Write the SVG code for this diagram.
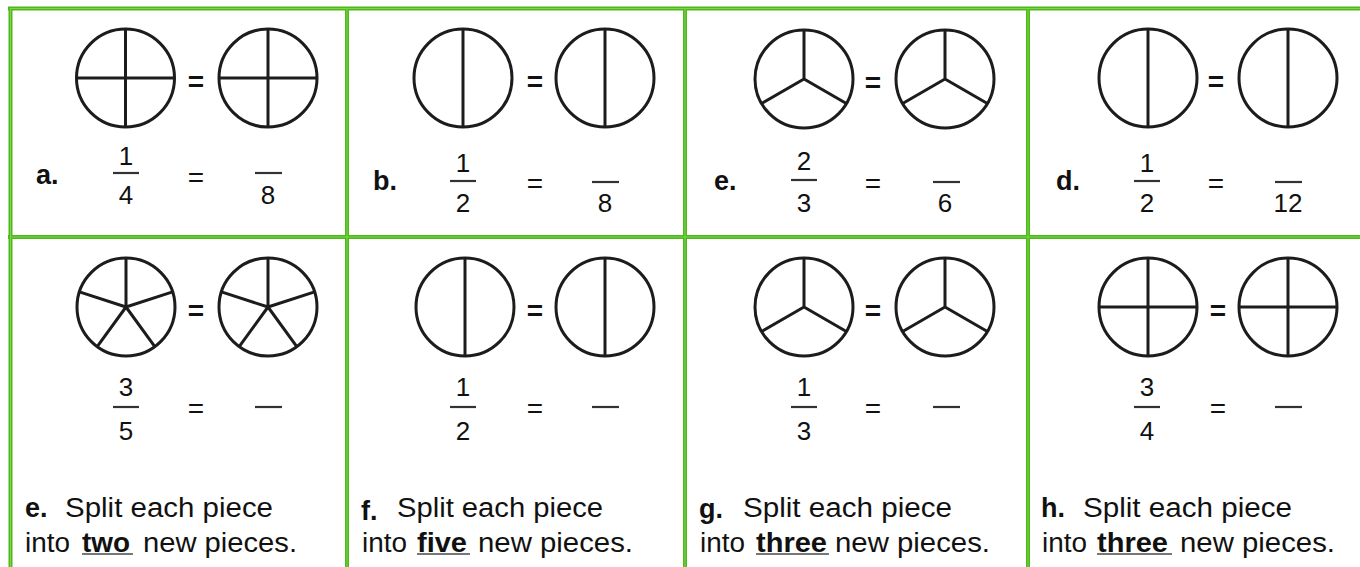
<svg xmlns="http://www.w3.org/2000/svg" xmlns:xlink="http://www.w3.org/1999/xlink" width="1360" height="567" viewBox="0 0 1360 567">
<style>
.t{font-family:"Liberation Sans",Arial,sans-serif;font-size:27px;fill:#111}
.d{font-family:"Liberation Sans",Arial,sans-serif;font-size:26px;fill:#111;text-anchor:middle}
.e{font-family:"Liberation Sans",Arial,sans-serif;font-size:28px;fill:#111;text-anchor:middle}
.b{font-weight:bold}
.bar{stroke:#333;stroke-width:2.2}
.ul{stroke:#777;stroke-width:2}
.g{stroke:#4cbb17;stroke-width:4;fill:none}
.gi{stroke:#7fd255;stroke-width:1;fill:none}
.c{fill:#fff;stroke:#1c1c1c;stroke-width:3}
.s{stroke:#1c1c1c;stroke-width:3;fill:none}
</style>
<defs>
<g id="p4"><circle class="c" r="49"/><path class="s" d="M-49 0H49M0 -49V49"/></g>
<g id="p2"><circle class="c" r="49"/><path class="s" d="M0 -49V49"/></g>
<g id="p3"><circle class="c" r="49"/><path class="s" d="M0 0V-49M0 0L-42.4 24.5M0 0L42.4 24.5"/></g>
<g id="p5"><circle class="c" r="49"/><path class="s" d="M0 0V-49M0 0L46.6 -15.1M0 0L28.8 39.6M0 0L-28.8 39.6M0 0L-46.6 -15.1"/></g>
</defs>
<rect width="1360" height="567" fill="#fff"/>

<g id="cell-a">
<use xlink:href="#p4" x="125.5" y="78"/><use xlink:href="#p4" x="268" y="78"/>
<text class="e b" x="196" y="91">=</text>
<text class="t b" x="36" y="184">a.</text>
<text class="d" x="126" y="165">1</text><line class="bar" x1="113" y1="173" x2="139" y2="173"/><text class="d" x="126" y="204">4</text>
<text class="e" x="196" y="187">=</text>
<line class="bar" x1="255" y1="173" x2="282" y2="173"/><text class="d" x="268" y="204">8</text>
</g>

<g id="cell-b">
<use xlink:href="#p2" x="463" y="78"/><use xlink:href="#p2" x="605" y="78"/>
<text class="e b" x="535" y="91">=</text>
<text class="t b" x="373" y="190">b.</text>
<text class="d" x="463" y="172">1</text><line class="bar" x1="450" y1="181" x2="476" y2="181"/><text class="d" x="463" y="212">2</text>
<text class="e" x="535" y="193">=</text>
<line class="bar" x1="592" y1="182" x2="619" y2="182"/><text class="d" x="605" y="212">8</text>
</g>

<g id="cell-e1">
<use xlink:href="#p3" x="804" y="79"/><use xlink:href="#p3" x="945" y="79"/>
<text class="e b" x="873" y="92">=</text>
<text class="t b" x="714" y="190">e.</text>
<text class="d" x="804" y="170">2</text><line class="bar" x1="791" y1="180" x2="817" y2="180"/><text class="d" x="804" y="212">3</text>
<text class="e" x="873" y="193">=</text>
<line class="bar" x1="933" y1="182" x2="960" y2="182"/><text class="d" x="945" y="212">6</text>
</g>

<g id="cell-d">
<use xlink:href="#p2" x="1148" y="78"/><use xlink:href="#p2" x="1288" y="78"/>
<text class="e b" x="1216" y="91">=</text>
<text class="t b" x="1056" y="190">d.</text>
<text class="d" x="1147" y="172">1</text><line class="bar" x1="1134" y1="181" x2="1160" y2="181"/><text class="d" x="1147" y="212">2</text>
<text class="e" x="1216" y="193">=</text>
<line class="bar" x1="1275" y1="182" x2="1302" y2="182"/><text class="d" x="1288" y="212">12</text>
</g>

<g id="cell-e2">
<use xlink:href="#p5" x="126" y="307"/><use xlink:href="#p5" x="268" y="307"/>
<text class="e b" x="196" y="320">=</text>
<text class="d" x="126" y="396">3</text><line class="bar" x1="113" y1="407" x2="139" y2="407"/><text class="d" x="126" y="440">5</text>
<text class="e" x="196" y="418">=</text>
<line class="bar" x1="255" y1="407" x2="282" y2="407"/>
<text class="t b" x="25" y="517">e.</text>
<text class="t" x="65" y="517" textLength="208" lengthAdjust="spacingAndGlyphs">Split each piece</text>
<text class="t" x="25" y="552" textLength="45" lengthAdjust="spacingAndGlyphs">into</text>
<text class="t b" x="82" y="552" textLength="48" lengthAdjust="spacingAndGlyphs">two</text>
<line class="ul" x1="82" y1="554" x2="133" y2="554"/>
<text class="t" x="143" y="552" textLength="154" lengthAdjust="spacingAndGlyphs">new pieces.</text>
</g>

<g id="cell-f">
<use xlink:href="#p2" x="465" y="307"/><use xlink:href="#p2" x="605" y="307"/>
<text class="e b" x="535" y="320">=</text>
<text class="d" x="463" y="396">1</text><line class="bar" x1="450" y1="407" x2="476" y2="407"/><text class="d" x="463" y="440">2</text>
<text class="e" x="535" y="418">=</text>
<line class="bar" x1="592" y1="407" x2="619" y2="407"/>
<text class="t b" x="361" y="520">f.</text>
<text class="t" x="397" y="517" textLength="206" lengthAdjust="spacingAndGlyphs">Split each piece</text>
<text class="t" x="362" y="552" textLength="45" lengthAdjust="spacingAndGlyphs">into</text>
<text class="t b" x="417" y="552" textLength="50" lengthAdjust="spacingAndGlyphs">five</text>
<line class="ul" x1="417" y1="554" x2="470" y2="554"/>
<text class="t" x="478" y="552" textLength="155" lengthAdjust="spacingAndGlyphs">new pieces.</text>
</g>

<g id="cell-g">
<use xlink:href="#p3" x="804" y="307"/><use xlink:href="#p3" x="945" y="307"/>
<text class="e b" x="873" y="320">=</text>
<text class="d" x="804" y="396">1</text><line class="bar" x1="791" y1="407" x2="817" y2="407"/><text class="d" x="804" y="440">3</text>
<text class="e" x="873" y="418">=</text>
<line class="bar" x1="933" y1="407" x2="960" y2="407"/>
<text class="t b" x="699" y="518">g.</text>
<text class="t" x="743" y="517" textLength="209" lengthAdjust="spacingAndGlyphs">Split each piece</text>
<text class="t" x="700" y="552" textLength="45" lengthAdjust="spacingAndGlyphs">into</text>
<text class="t b" x="756" y="552" textLength="71" lengthAdjust="spacingAndGlyphs">three</text>
<line class="ul" x1="756" y1="554" x2="829" y2="554"/>
<text class="t" x="835" y="552" textLength="155" lengthAdjust="spacingAndGlyphs">new pieces.</text>
</g>

<g id="cell-h">
<use xlink:href="#p4" x="1148" y="307"/><use xlink:href="#p4" x="1288" y="307"/>
<text class="e b" x="1218" y="320">=</text>
<text class="d" x="1147" y="396">3</text><line class="bar" x1="1134" y1="407" x2="1160" y2="407"/><text class="d" x="1147" y="440">4</text>
<text class="e" x="1218" y="418">=</text>
<line class="bar" x1="1275" y1="407" x2="1302" y2="407"/>
<text class="t b" x="1041" y="517">h.</text>
<text class="t" x="1083" y="517" textLength="209" lengthAdjust="spacingAndGlyphs">Split each piece</text>
<text class="t" x="1042" y="552" textLength="45" lengthAdjust="spacingAndGlyphs">into</text>
<text class="t b" x="1097" y="552" textLength="71" lengthAdjust="spacingAndGlyphs">three</text>
<line class="ul" x1="1097" y1="554" x2="1172" y2="554"/>
<text class="t" x="1180" y="552" textLength="155" lengthAdjust="spacingAndGlyphs">new pieces.</text>
</g>

<g id="connectors">
<path class="g" d="M8 8.5H1360M8 237H1360M10.5 7V567M347 7V567M685 7V567M1028 7V567"/>
<path class="gi" d="M10 8.5H1360M10 237H1360M10.5 9V567M347 9V567M685 9V567M1028 9V567"/>
</g>
</svg>
